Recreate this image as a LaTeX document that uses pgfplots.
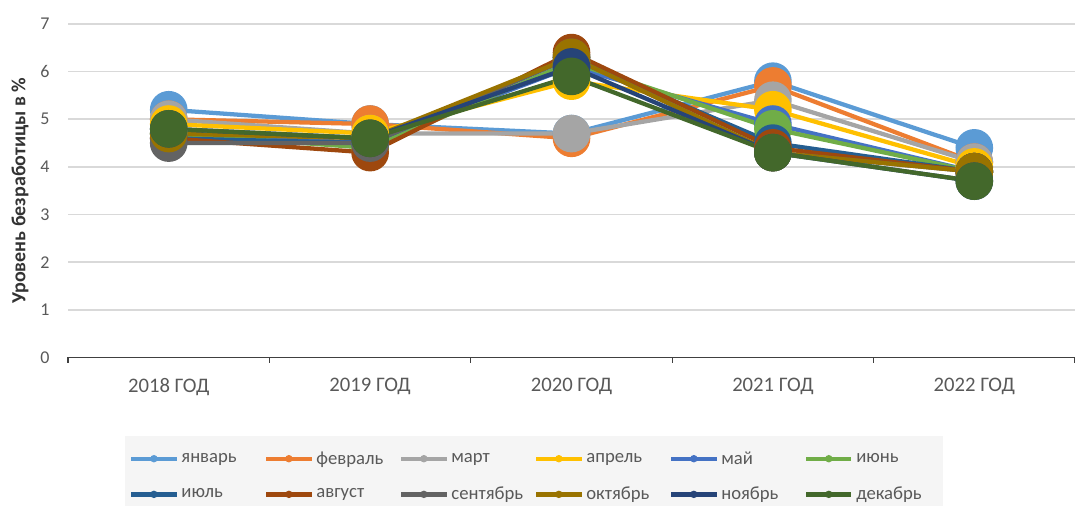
\documentclass[border=0pt]{standalone}
\usepackage{pgfplots}
\pgfplotsset{compat=1.18}
\usepackage{fontspec}
\setmainfont{Carlito}
\definecolor{c1}{HTML}{5B9BD5}
\definecolor{c2}{HTML}{ED7D31}
\definecolor{c3}{HTML}{A5A5A5}
\definecolor{c4}{HTML}{FFC000}
\definecolor{c5}{HTML}{4472C4}
\definecolor{c6}{HTML}{70AD47}
\definecolor{c7}{HTML}{255E91}
\definecolor{c8}{HTML}{9E480E}
\definecolor{c9}{HTML}{636363}
\definecolor{c10}{HTML}{997300}
\definecolor{c11}{HTML}{264478}
\definecolor{c12}{HTML}{43682B}
\definecolor{txt}{HTML}{595959}
\pgfplotstableread{
x jan feb mar apr may jun jul aug sep oct nov dec
0 5.2 5.0 5.0 4.9 4.7 4.7 4.6 4.6 4.5 4.7 4.8 4.8
1 4.9 4.9 4.7 4.7 4.5 4.4 4.5 4.3 4.5 4.6 4.6 4.6
2 4.7 4.6 4.7 5.8 6.1 6.2 6.3 6.4 6.3 6.3 6.1 5.9
3 5.8 5.7 5.4 5.2 4.9 4.8 4.5 4.4 4.3 4.3 4.3 4.3
4 4.4 4.1 4.1 4.0 3.9 3.9 3.9 3.9 3.9 3.9 3.7 3.7
}\datatable
\newcommand{\lb}[1]{\makebox[60pt][l]{#1}}
\begin{document}
\begin{tikzpicture}
\begin{axis}[
  name=ax,
  scale only axis, width=755pt, height=250pt,
  xmin=-0.5, xmax=4.5, ymin=0, ymax=7,
  xtick={0,1,2,3,4},
  xticklabels={2018 ГОД,2019 ГОД,2020 ГОД,2021 ГОД,2022 ГОД},
  major x tick style={draw=none},
  minor xtick={-0.5,0.5,1.5,2.5,3.5,4.5},
  minor x tick style={draw=black!75, line width=1pt},
  minor tick length=4pt,
  tick align=outside,
  ytick={0,1,...,7},
  ytick style={draw=none},
  axis x line*=bottom, axis y line*=left,
  y axis line style={draw=none},
  x axis line style={-, draw=black!75, line width=1.2pt},
  ymajorgrids, grid style={draw=black!15, line width=1.2pt},
  tick label style={font=\fontsize{13.5}{15}\selectfont, text=txt},
  xticklabel style={font=\fontsize{15.5}{17}\selectfont, yshift=-8pt},
  /pgf/number format/assume math mode=true,
  yticklabel style={xshift=-6pt},
  ylabel={Уровень безработицы в \%},
  ylabel style={font=\fontsize{15}{17}\selectfont\bfseries, text=black!80, yshift=2pt},
  every axis plot/.append style={line width=3.2pt, mark=*, mark size=12.5pt},
  legend columns=6,
  legend style={at={(0.4628,-0.234)}, anchor=north, fill=black!4, draw=none,
    font=\fontsize{14}{16}\selectfont, text=txt, inner xsep=3pt, inner ysep=9.75pt,
    /tikz/every even column/.append style={column sep=0pt},
    row sep=11.75pt},
  legend cell align=left,
  legend image code/.code={\draw[#1, mark=none] (0pt,0pt) -- (34pt,0pt);
     \fill[#1, draw=none] (17pt,0pt) circle (2.8pt);},
]
\addplot[c1] table[x=x,y=jan] {\datatable};
\addplot[c2] table[x=x,y=feb] {\datatable};
\addplot[c3] table[x=x,y=mar] {\datatable};
\addplot[c4] table[x=x,y=apr] {\datatable};
\addplot[c5] table[x=x,y=may] {\datatable};
\addplot[c6] table[x=x,y=jun] {\datatable};
\addplot[c7] table[x=x,y=jul] {\datatable};
\addplot[c8] table[x=x,y=aug] {\datatable};
\addplot[c9] table[x=x,y=sep] {\datatable};
\addplot[c10] table[x=x,y=oct] {\datatable};
\addplot[c11] table[x=x,y=nov] {\datatable};
\addplot[c12] table[x=x,y=dec] {\datatable};
\legend{\lb{январь},\lb{февраль},\lb{март},\lb{апрель},\lb{май},\lb{июнь},
        \lb{июль},\lb{август},\lb{сентябрь},\lb{октябрь},\lb{ноябрь},\lb{декабрь}}
\end{axis}
\pgfresetboundingbox
\path[use as bounding box] ([xshift=-51pt,yshift=-111pt]ax.south west) rectangle ([yshift=18pt]ax.north east);
\end{tikzpicture}
\end{document}
